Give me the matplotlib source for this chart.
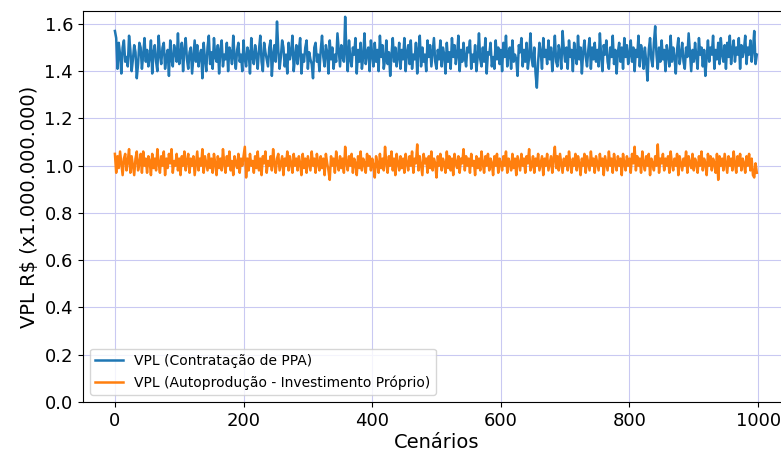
import numpy as np
import matplotlib.pyplot as plt

cenarios = np.arange(0, 1000, 2)

vpl_ppa = [
    1.57, 1.54, 1.41, 1.52, 1.47, 1.39, 1.50, 1.53, 1.44, 1.46, 1.42, 1.55, 1.49, 1.40, 1.45, 1.51, 1.48, 1.37, 1.43, 1.52, 1.50, 1.41, 1.47, 1.54, 1.44,
    1.49, 1.42, 1.46, 1.53, 1.39, 1.48, 1.51, 1.44, 1.40, 1.55, 1.47, 1.43, 1.50, 1.52, 1.41, 1.46, 1.49, 1.38, 1.53, 1.45, 1.42, 1.51, 1.48, 1.44, 1.56,
    1.43, 1.47, 1.52, 1.40, 1.49, 1.54, 1.45, 1.41, 1.48, 1.50, 1.39, 1.46, 1.53, 1.44, 1.51, 1.42, 1.47, 1.49, 1.37, 1.52, 1.45, 1.40, 1.50, 1.55, 1.43,
    1.48, 1.41, 1.54, 1.46, 1.44, 1.51, 1.39, 1.49, 1.53, 1.42, 1.47, 1.45, 1.52, 1.40, 1.50, 1.48, 1.43, 1.55, 1.46, 1.41, 1.49, 1.52, 1.44, 1.47, 1.40,
    1.53, 1.45, 1.42, 1.50, 1.48, 1.39, 1.54, 1.46, 1.43, 1.51, 1.47, 1.41, 1.49, 1.55, 1.44, 1.40, 1.52, 1.48, 1.45, 1.42, 1.50, 1.53, 1.38, 1.47, 1.51,
    1.44, 1.61, 1.49, 1.41, 1.46, 1.53, 1.50, 1.42, 1.47, 1.39, 1.52, 1.45, 1.48, 1.55, 1.40, 1.46, 1.51, 1.43, 1.49, 1.54, 1.39, 1.47, 1.44, 1.50, 1.53,
    1.41, 1.48, 1.45, 1.43, 1.37, 1.50, 1.52, 1.44, 1.47, 1.40, 1.49, 1.55, 1.46, 1.42, 1.51, 1.48, 1.39, 1.53, 1.45, 1.50, 1.41, 1.47, 1.44, 1.56, 1.49,
    1.42, 1.51, 1.46, 1.44, 1.63, 1.48, 1.40, 1.53, 1.45, 1.42, 1.50, 1.47, 1.54, 1.39, 1.49, 1.44, 1.52, 1.41, 1.46, 1.56, 1.43, 1.48, 1.50, 1.40, 1.53,
    1.47, 1.42, 1.52, 1.44, 1.49, 1.40, 1.55, 1.46, 1.51, 1.41, 1.45, 1.53, 1.43, 1.48, 1.38, 1.47, 1.54, 1.44, 1.50, 1.42, 1.46, 1.52, 1.41, 1.49, 1.45,
    1.54, 1.40, 1.48, 1.51, 1.43, 1.53, 1.41, 1.47, 1.45, 1.52, 1.39, 1.49, 1.55, 1.42, 1.50, 1.44, 1.47, 1.40, 1.53, 1.46, 1.51, 1.42, 1.48, 1.54, 1.44,
    1.41, 1.49, 1.45, 1.53, 1.42, 1.50, 1.47, 1.39, 1.52, 1.44, 1.48, 1.41, 1.54, 1.46, 1.51, 1.43, 1.47, 1.55, 1.40, 1.49, 1.44, 1.52, 1.46, 1.42, 1.50,
    1.48, 1.53, 1.41, 1.47, 1.44, 1.51, 1.40, 1.46, 1.56, 1.45, 1.42, 1.50, 1.44, 1.54, 1.39, 1.48, 1.47, 1.52, 1.42, 1.46, 1.41, 1.53, 1.45, 1.50, 1.43,
    1.49, 1.40, 1.52, 1.46, 1.55, 1.42, 1.48, 1.50, 1.41, 1.53, 1.44, 1.47, 1.45, 1.38, 1.51, 1.48, 1.54, 1.42, 1.49, 1.44, 1.52, 1.41, 1.46, 1.56, 1.45,
    1.42, 1.50, 1.39, 1.33, 1.44, 1.52, 1.48, 1.41, 1.54, 1.46, 1.49, 1.43, 1.53, 1.45, 1.50, 1.40, 1.47, 1.55, 1.44, 1.42, 1.51, 1.48, 1.41, 1.57, 1.49,
    1.44, 1.50, 1.41, 1.53, 1.46, 1.49, 1.40, 1.52, 1.47, 1.43, 1.55, 1.45, 1.50, 1.39, 1.48, 1.53, 1.46, 1.42, 1.49, 1.54, 1.41, 1.50, 1.45, 1.52, 1.44,
    1.49, 1.42, 1.56, 1.46, 1.40, 1.51, 1.47, 1.53, 1.44, 1.41, 1.50, 1.46, 1.55, 1.43, 1.49, 1.39, 1.48, 1.52, 1.44, 1.50, 1.41, 1.54, 1.46, 1.51, 1.43,
    1.47, 1.53, 1.44, 1.50, 1.40, 1.49, 1.46, 1.55, 1.42, 1.51, 1.48, 1.41, 1.50, 1.44, 1.36, 1.49, 1.54, 1.45, 1.42, 1.52, 1.59, 1.47, 1.41, 1.50, 1.44,
    1.53, 1.45, 1.49, 1.40, 1.51, 1.47, 1.42, 1.55, 1.44, 1.50, 1.46, 1.39, 1.49, 1.54, 1.43, 1.47, 1.52, 1.44, 1.41, 1.50, 1.46, 1.56, 1.48, 1.40, 1.49,
    1.44, 1.52, 1.46, 1.41, 1.54, 1.47, 1.50, 1.42, 1.49, 1.38, 1.46, 1.53, 1.44, 1.50, 1.47, 1.55, 1.41, 1.49, 1.45, 1.52, 1.43, 1.54, 1.47, 1.44, 1.51,
    1.41, 1.52, 1.46, 1.55, 1.43, 1.49, 1.53, 1.44, 1.50, 1.47, 1.54, 1.41, 1.51, 1.46, 1.49, 1.55, 1.43, 1.50, 1.47, 1.53, 1.44, 1.49, 1.57, 1.43, 1.47,
]

vpl_auto = [
    1.05, 0.97, 1.04, 0.99, 1.06, 1.01, 0.96, 1.03, 1.05, 0.98, 1.02, 1.07, 0.97, 1.04, 1.00, 0.96, 1.03, 1.06, 0.98, 1.01, 1.05, 0.97, 1.06, 1.00, 1.03,
    0.97, 1.04, 1.02, 0.96, 1.05, 0.99, 1.03, 0.98, 1.07, 1.01, 0.97, 1.04, 1.00, 1.06, 0.96, 1.03, 0.99, 1.05, 1.01, 1.07, 0.97, 1.02, 1.00, 1.05, 0.98,
    1.03, 0.96, 1.04, 1.00, 1.06, 0.98, 1.02, 1.05, 0.97, 1.03, 1.00, 1.04, 0.96, 1.01, 1.06, 0.98, 1.03, 1.00, 1.07, 0.97, 1.04, 1.01, 0.98, 1.05, 0.99,
    1.03, 0.97, 1.05, 1.01, 0.96, 1.04, 0.99, 1.03, 0.98, 1.07, 1.01, 0.97, 1.04, 1.00, 1.06, 0.98, 1.02, 0.96, 1.04, 1.01, 0.99, 1.05, 0.97, 1.03, 1.00,
    1.04, 1.08, 0.95, 1.03, 0.98, 1.05, 1.00, 1.02, 0.97, 1.04, 0.99, 1.06, 0.98, 1.03, 0.96, 1.04, 1.01, 1.06, 0.97, 1.02, 1.00, 1.04, 0.98, 1.07, 1.01,
    0.97, 1.03, 1.05, 0.98, 1.01, 1.04, 0.96, 1.03, 1.00, 1.06, 0.98, 1.04, 1.01, 0.97, 1.05, 1.00, 1.03, 0.98, 1.04, 1.01, 0.96, 1.05, 0.99, 1.03, 0.97,
    1.04, 1.01, 0.98, 1.06, 1.00, 1.03, 0.97, 1.05, 1.01, 0.98, 1.04, 0.99, 1.03, 0.96, 1.05, 1.01, 0.98, 0.94, 1.04, 1.00, 1.03, 0.97, 1.06, 1.01, 0.98,
    1.04, 0.99, 1.03, 0.97, 1.08, 1.01, 0.98, 1.04, 1.00, 1.05, 0.97, 1.03, 1.01, 0.96, 1.04, 0.99, 1.06, 0.98, 1.03, 1.01, 0.97, 1.05, 1.00, 1.04, 0.98,
    1.03, 1.00, 0.95, 1.04, 1.01, 0.97, 1.05, 0.99, 1.03, 0.98, 1.08, 1.01, 0.97, 1.04, 1.00, 1.06, 0.98, 1.03, 0.96, 1.05, 1.01, 0.98, 1.04, 0.99, 1.03,
    0.97, 1.05, 1.01, 0.98, 1.04, 1.00, 1.06, 0.97, 1.03, 1.01, 1.09, 0.98, 1.04, 1.00, 0.96, 1.05, 1.01, 1.03, 0.97, 1.04, 0.99, 1.06, 0.98, 1.03, 1.01,
    0.95, 1.04, 1.00, 1.05, 0.98, 1.03, 1.01, 0.97, 1.06, 0.99, 1.04, 0.98, 1.03, 0.96, 1.05, 1.01, 0.99, 1.04, 0.97, 1.03, 1.01, 1.07, 0.98, 1.04, 1.00,
    1.03, 0.97, 1.05, 1.00, 1.02, 0.96, 1.04, 0.99, 1.03, 0.98, 1.06, 1.01, 0.97, 1.04, 1.00, 1.05, 0.98, 1.03, 1.01, 0.96, 1.04, 1.00, 1.05, 0.97, 1.03,
    1.01, 0.98, 1.04, 1.00, 1.06, 0.97, 1.03, 1.01, 0.98, 1.05, 0.99, 1.03, 0.96, 1.04, 1.01, 0.98, 1.05, 1.00, 1.03, 0.97, 1.04, 1.01, 1.07, 0.98, 1.00,
    1.04, 0.97, 1.03, 1.00, 1.05, 0.98, 1.01, 1.04, 0.96, 1.03, 1.00, 1.05, 0.98, 1.01, 1.04, 0.97, 1.03, 1.08, 0.99, 1.04, 0.98, 1.05, 1.01, 0.97, 1.03,
    1.00, 1.04, 0.98, 1.06, 1.01, 0.97, 1.03, 1.00, 1.05, 0.98, 1.04, 1.01, 0.96, 1.03, 1.00, 1.05, 0.97, 1.04, 1.01, 0.98, 1.06, 1.00, 1.03, 0.97, 1.04,
    1.01, 0.98, 1.05, 1.00, 1.03, 0.96, 1.04, 1.01, 0.98, 1.06, 1.00, 1.03, 0.97, 1.05, 1.01, 0.98, 1.04, 1.00, 1.03, 0.96, 1.05, 1.01, 0.98, 1.04, 1.00,
    1.03, 0.97, 1.05, 1.01, 1.08, 0.98, 1.04, 1.00, 1.03, 0.97, 1.06, 1.01, 0.98, 1.04, 1.00, 1.05, 0.96, 1.03, 1.01, 0.98, 1.04, 1.00, 1.09, 0.97, 1.03,
    1.01, 1.05, 0.98, 1.03, 1.00, 1.04, 0.97, 1.06, 1.01, 0.98, 1.03, 1.00, 1.05, 0.96, 1.04, 1.01, 0.98, 1.03, 1.00, 1.06, 0.97, 1.04, 1.01, 0.99, 1.05,
    0.98, 1.03, 1.01, 0.97, 1.04, 1.00, 1.06, 0.98, 1.03, 1.01, 0.96, 1.05, 1.00, 1.04, 0.98, 1.03, 1.01, 0.97, 1.05, 0.94, 1.04, 1.00, 1.03, 0.98, 1.05,
    1.01, 0.97, 1.04, 1.00, 1.03, 0.98, 1.06, 1.01, 0.97, 1.04, 1.00, 1.05, 0.98, 1.03, 1.01, 0.97, 1.04, 1.00, 1.05, 0.98, 1.03, 0.96, 0.95, 1.01, 0.97,
]

fig = plt.figure(figsize=(7.81, 4.54), dpi=100)
# the original picture is cropped on the right, so the axes run past the edge
ax = fig.add_axes([0.106, 0.1145, 0.905, 0.8615])

ax.plot(cenarios, vpl_ppa, color='#1f77b4', linewidth=1.8, label='VPL (Contratação de PPA)')
ax.plot(cenarios, vpl_auto, color='#ff7f0e', linewidth=1.8, label='VPL (Autoprodução - Investimento Próprio)')

ax.set_xlim(-49.95, 1048.95)
ax.set_ylim(0, 1.655)
ax.set_yticks(np.arange(0, 1.61, 0.2))
ax.grid(True, color='#c9c9f2', linewidth=0.8)

ax.set_xlabel('Cenários', fontsize=14, labelpad=2)
ax.set_ylabel('VPL R$ (x1.000.000.000)', fontsize=14)
ax.tick_params(labelsize=13)
ax.legend(loc='lower left', fontsize=10)

fig.savefig('out.png', dpi=100)
